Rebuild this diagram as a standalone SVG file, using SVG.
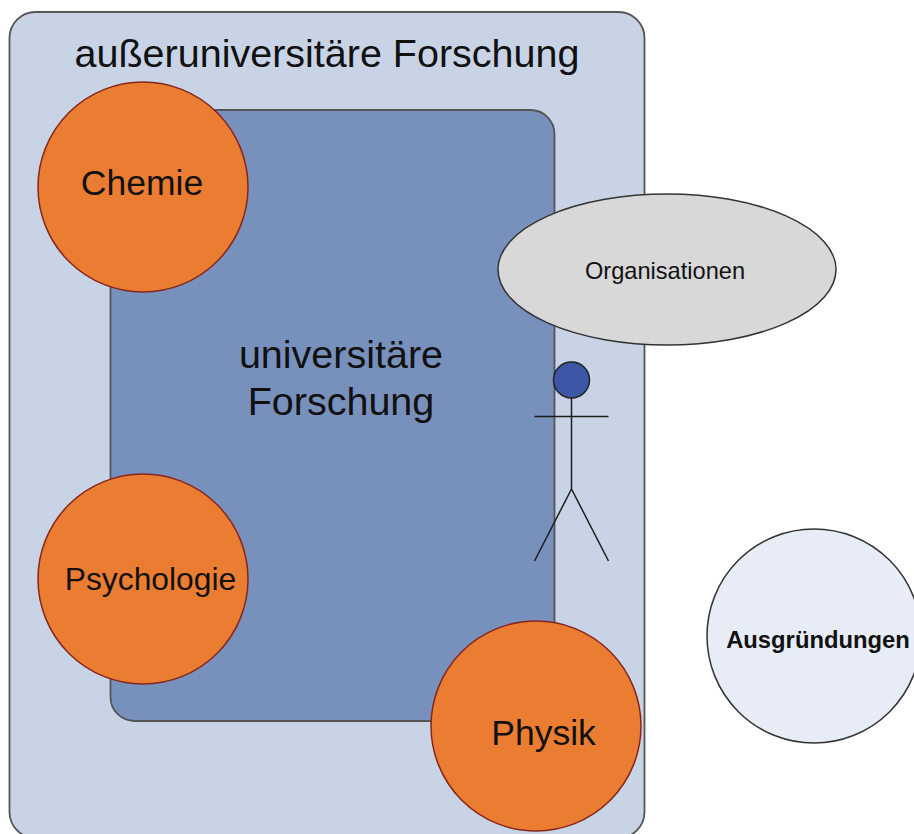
<svg xmlns="http://www.w3.org/2000/svg" width="914" height="834" viewBox="0 0 914 834">
<style>
text{font-family:"Liberation Sans",Arial,sans-serif;fill:#111;text-anchor:middle}
.o{fill:#ea7d32;stroke:#86261c;stroke-width:1.5}
.l{font-size:39.5px}
.m{font-size:35.5px}
.s{stroke:#1c1c1c;stroke-width:1.5;fill:none}
.b{stroke:#555;stroke-width:1.8}
</style>
<rect width="914" height="834" fill="#fff"/>
<g id="aussen"><rect class="b" x="9.500" y="12" width="635" height="826" rx="26" fill="#c8d4e5"/><text class="l" x="327" y="67">außeruniversitäre Forschung</text></g>
<g id="uni"><rect class="b" x="110.500" y="110" width="444" height="611" rx="24" fill="#7890bc"/><text class="l" x="341" y="368">universitäre</text><text class="l" x="341" y="415">Forschung</text></g>
<g id="chemie"><circle class="o" cx="143" cy="187" r="105"/><text class="m" x="142" y="195">Chemie</text></g>
<g id="psychologie"><circle class="o" cx="143" cy="579" r="105"/><text x="150.500" y="590" font-size="31.800">Psychologie</text></g>
<g id="physik"><circle class="o" cx="536" cy="726" r="105"/><text class="m" x="543.500" y="745">Physik</text></g>
<g id="organisationen"><ellipse cx="667" cy="269.500" rx="169" ry="75.500" fill="#d8d8d8" stroke="#333" stroke-width="1.500"/><text x="665" y="279" font-size="23.600">Organisationen</text></g>
<g id="person"><circle cx="571.500" cy="380" r="18" fill="#3d57a6" stroke="#222" stroke-width="1.500"/><path class="s" d="M571.500 398V489M534.500 416.500H608.500M571.500 489L534.500 561M571.500 489L608.500 561"/></g>
<g id="ausgruendungen"><circle cx="814" cy="636" r="107" fill="#e8ecf7" stroke="#333" stroke-width="1.500"/><text x="818" y="648" font-size="23.800" font-weight="bold">Ausgründungen</text></g>
<g id="connectors"></g>
</svg>
